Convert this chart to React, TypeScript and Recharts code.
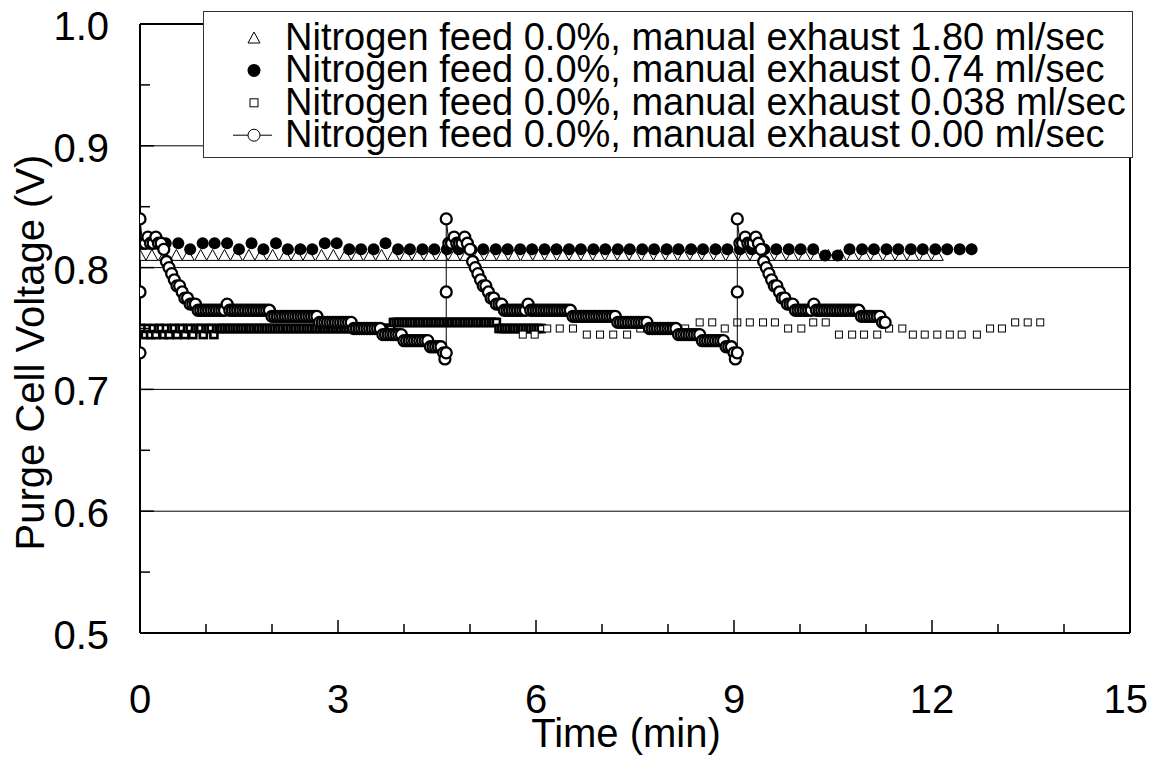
import React from 'react';
import {
  ScatterChart,
  Scatter,
  XAxis,
  YAxis,
  CartesianGrid,
  ReferenceLine,
  Legend,
} from 'recharts';

type Pt = [number, number]; // [time (min), purge cell voltage (V)]

const xTicks = [0, 1, 2, 3, 4, 5, 6, 7, 8, 9, 10, 11, 12, 13, 14, 15];
const yTicks = [0.5, 0.55, 0.6, 0.65, 0.7, 0.75, 0.8, 0.85, 0.9, 0.95, 1.0];
const gridLevels = [0.6, 0.7, 0.8, 0.9];

const legendLabels = [
  'Nitrogen feed 0.0%, manual exhaust 1.80 ml/sec',
  'Nitrogen feed 0.0%, manual exhaust 0.74 ml/sec',
  'Nitrogen feed 0.0%, manual exhaust 0.038 ml/sec',
  'Nitrogen feed 0.0%, manual exhaust 0.00 ml/sec',
];

// exhaust 1.80 ml/sec (open triangles)
const exhaust180: Pt[] = [
  [0, .81], [.18, .81], [.37, .81], [.55, .81], [.73, .81], [.92, .81], [1.1, .81], [1.28, .81], [1.46, .81], [1.65, .81],
  [1.83, .81], [2.01, .81], [2.2, .81], [2.38, .81], [2.56, .81], [2.75, .81], [2.93, .81], [3.11, .81], [3.29, .81], [3.48, .81],
  [3.66, .81], [3.84, .81], [4.03, .81], [4.21, .81], [4.39, .81], [4.58, .81], [4.76, .81], [4.94, .81], [5.12, .81], [5.31, .81],
  [5.49, .81], [5.67, .81], [5.86, .81], [6.04, .81], [6.22, .81], [6.41, .81], [6.59, .81], [6.77, .81], [6.95, .81], [7.14, .81],
  [7.32, .81], [7.5, .81], [7.69, .81], [7.87, .81], [8.05, .81], [8.24, .81], [8.42, .81], [8.6, .81], [8.78, .81], [8.97, .81],
  [9.15, .81], [9.33, .81], [9.52, .81], [9.7, .81], [9.88, .81], [10.07, .81], [10.25, .81], [10.43, .81], [10.61, .81], [10.8, .81],
  [10.98, .81], [11.16, .81], [11.35, .81], [11.53, .81], [11.71, .81], [11.9, .81], [12.08, .81],
];

// exhaust 0.74 ml/sec (filled circles)
const exhaust074: Pt[] = [
  [.02, .82], [.21, .82], [.39, .82], [.58, .82], [.76, .815], [.95, .82], [1.13, .82], [1.32, .82], [1.5, .815], [1.69, .82],
  [1.87, .815], [2.06, .82], [2.24, .815], [2.43, .815], [2.61, .815], [2.8, .82], [2.98, .82], [3.17, .815], [3.35, .815], [3.54, .815],
  [3.72, .82], [3.91, .815], [4.09, .815], [4.28, .815], [4.46, .815], [4.65, .815], [4.83, .815], [5.02, .815], [5.2, .815], [5.39, .815],
  [5.57, .815], [5.76, .815], [5.94, .815], [6.13, .815], [6.31, .815], [6.5, .815], [6.68, .815], [6.87, .815], [7.05, .815], [7.24, .815],
  [7.42, .815], [7.61, .815], [7.79, .815], [7.98, .815], [8.16, .815], [8.35, .815], [8.53, .815], [8.72, .815], [8.9, .815], [9.09, .815],
  [9.27, .815], [9.46, .815], [9.64, .815], [9.83, .815], [10.01, .815], [10.2, .815], [10.38, .81], [10.57, .81], [10.75, .815], [10.94, .815],
  [11.12, .815], [11.31, .815], [11.49, .815], [11.68, .815], [11.86, .815], [12.05, .815], [12.23, .815], [12.42, .815], [12.6, .815],
];

// exhaust 0.038 ml/sec (open squares): fast logging first, then slow
const exhaust038Fast: Pt[] = [
  [0, .75], [.04, .75], [.08, .745], [.12, .75], [.16, .745], [.2, .75], [.24, .745], [.28, .75], [.32, .75], [.36, .745],
  [.4, .75], [.44, .745], [.48, .75], [.52, .75], [.56, .745], [.6, .75], [.64, .75], [.68, .745], [.72, .75], [.76, .75],
  [.8, .745], [.84, .75], [.88, .75], [.92, .75], [.96, .745], [1, .75], [1.04, .75], [1.08, .75], [1.12, .745], [1.16, .75],
  [1.2, .75], [1.24, .75], [1.28, .75], [1.32, .75], [1.36, .75], [1.4, .75], [1.44, .75], [1.48, .75], [1.52, .75], [1.56, .75],
  [1.6, .75], [1.64, .75], [1.68, .75], [1.72, .75], [1.76, .75], [1.8, .75], [1.84, .75], [1.88, .75], [1.92, .75], [1.96, .75],
  [2, .75], [2.04, .75], [2.08, .75], [2.12, .75], [2.16, .75], [2.2, .75], [2.24, .75], [2.28, .75], [2.32, .75], [2.36, .75],
  [2.4, .75], [2.44, .75], [2.48, .75], [2.52, .75], [2.56, .75], [2.6, .75], [2.64, .75], [2.68, .75], [2.72, .75], [2.76, .75],
  [2.8, .75], [2.84, .75], [2.88, .75], [2.92, .75], [2.96, .75], [3, .75], [3.04, .75], [3.08, .75], [3.12, .75], [3.16, .75],
  [3.2, .75], [3.24, .75], [3.28, .75], [3.32, .75], [3.36, .75], [3.4, .75], [3.44, .75], [3.48, .75], [3.52, .75], [3.56, .75],
  [3.6, .75], [3.64, .75], [3.68, .75], [3.72, .75], [3.76, .75], [3.8, .75], [3.84, .755], [3.88, .755], [3.92, .755], [3.96, .755],
  [4, .755], [4.04, .755], [4.08, .755], [4.12, .755], [4.16, .755], [4.2, .755], [4.24, .755], [4.28, .755], [4.32, .755], [4.36, .755],
  [4.4, .755], [4.44, .755], [4.48, .755], [4.52, .755], [4.56, .755], [4.6, .755], [4.64, .755], [4.68, .755], [4.72, .755], [4.76, .755],
  [4.8, .755], [4.84, .755], [4.88, .755], [4.92, .755], [4.96, .755], [5, .755], [5.04, .755], [5.08, .755], [5.12, .755], [5.16, .755],
  [5.2, .755], [5.24, .755], [5.28, .755], [5.32, .755], [5.36, .755], [5.4, .755], [5.44, .75], [5.48, .75], [5.52, .75], [5.56, .75],
  [5.6, .75], [5.64, .75], [5.68, .75], [5.72, .75], [5.76, .75], [5.8, .75], [5.84, .75], [5.88, .75], [5.92, .75], [5.96, .75],
  [6, .75], [6.04, .75], [6.08, .75],
];
const exhaust038Slow: Pt[] = [
  [5.8, .745], [5.98, .745], [6.17, .75], [6.36, .75], [6.56, .75], [6.77, .745], [6.97, .745], [7.17, .745], [7.38, .745], [7.58, .75],
  [7.76, .75], [7.91, .75], [8.08, .75], [8.26, .75], [8.48, .755], [8.67, .755], [8.86, .75], [9.05, .755], [9.24, .755], [9.44, .755],
  [9.62, .755], [9.82, .75], [10.02, .75], [10.2, .755], [10.39, .755], [10.59, .745], [10.79, .745], [10.97, .745], [11.17, .745], [11.35, .75],
  [11.55, .75], [11.71, .745], [11.89, .745], [12.08, .745], [12.27, .745], [12.45, .745], [12.68, .745], [12.88, .75], [13.06, .75], [13.26, .755],
  [13.45, .755], [13.64, .755],
];

// exhaust 0.00 ml/sec (open circles + line), three purge cycles
const purgeCycle1: Pt[] = [
  [0, .73], [0, .78], [0, .84], [.04, .82], [.08, .82], [.12, .825], [.16, .82], [.2, .82], [.24, .825], [.28, .82],
  [.32, .82], [.36, .815], [.4, .805], [.44, .8], [.48, .795], [.52, .79], [.56, .785], [.6, .785], [.64, .78], [.68, .775],
  [.72, .775], [.76, .77], [.8, .77], [.84, .77], [.88, .765], [.92, .765], [.96, .765], [1, .765], [1.04, .765], [1.08, .765],
  [1.12, .765], [1.16, .765], [1.2, .765], [1.24, .765], [1.28, .765], [1.32, .77], [1.36, .765], [1.4, .765], [1.44, .765], [1.48, .765],
  [1.52, .765], [1.56, .765], [1.6, .765], [1.64, .765], [1.68, .765], [1.72, .765], [1.76, .765], [1.8, .765], [1.84, .765], [1.88, .765],
  [1.92, .765], [1.96, .765], [2, .76], [2.04, .76], [2.08, .76], [2.12, .76], [2.16, .76], [2.2, .76], [2.24, .76], [2.28, .76],
  [2.32, .76], [2.36, .76], [2.4, .76], [2.44, .76], [2.48, .76], [2.52, .76], [2.56, .76], [2.6, .76], [2.64, .76], [2.68, .76],
  [2.72, .755], [2.76, .755], [2.8, .755], [2.84, .755], [2.88, .755], [2.92, .755], [2.96, .755], [3, .755], [3.04, .755], [3.08, .755],
  [3.12, .755], [3.16, .755], [3.2, .755], [3.24, .75], [3.28, .75], [3.32, .75], [3.36, .75], [3.4, .75], [3.44, .75], [3.48, .75],
  [3.52, .75], [3.56, .75], [3.6, .75], [3.64, .75], [3.68, .745], [3.72, .745], [3.76, .745], [3.8, .745], [3.84, .745], [3.88, .745],
  [3.92, .745], [3.96, .745], [4, .74], [4.04, .74], [4.08, .74], [4.12, .74], [4.16, .74], [4.2, .74], [4.24, .74], [4.28, .74],
  [4.32, .74], [4.36, .74], [4.4, .735], [4.44, .735], [4.48, .735], [4.52, .735], [4.56, .735], [4.6, .73], [4.62, .725],
];
const purgeCycle2: Pt[] = [
  [4.64, .73], [4.64, .78], [4.64, .84], [4.68, .82], [4.72, .82], [4.76, .825], [4.8, .82], [4.84, .82], [4.88, .82], [4.92, .825],
  [4.96, .82], [5, .815], [5.04, .805], [5.08, .8], [5.12, .795], [5.16, .79], [5.2, .785], [5.24, .785], [5.28, .78], [5.32, .775],
  [5.36, .775], [5.4, .77], [5.44, .77], [5.48, .77], [5.52, .765], [5.56, .765], [5.6, .765], [5.64, .765], [5.68, .765], [5.72, .765],
  [5.76, .765], [5.8, .765], [5.84, .765], [5.88, .77], [5.92, .765], [5.96, .765], [6, .765], [6.04, .765], [6.08, .765], [6.12, .765],
  [6.16, .765], [6.2, .765], [6.24, .765], [6.28, .765], [6.32, .765], [6.36, .765], [6.4, .765], [6.44, .765], [6.48, .765], [6.52, .765],
  [6.56, .76], [6.6, .76], [6.64, .76], [6.68, .76], [6.72, .76], [6.76, .76], [6.8, .76], [6.84, .76], [6.88, .76], [6.92, .76],
  [6.96, .76], [7, .76], [7.04, .76], [7.08, .76], [7.12, .76], [7.16, .76], [7.2, .76], [7.24, .755], [7.28, .755], [7.32, .755],
  [7.36, .755], [7.4, .755], [7.44, .755], [7.48, .755], [7.52, .755], [7.56, .755], [7.6, .755], [7.64, .755], [7.68, .755], [7.72, .75],
  [7.76, .75], [7.8, .75], [7.84, .75], [7.88, .75], [7.92, .75], [7.96, .75], [8, .75], [8.04, .75], [8.08, .75], [8.12, .75],
  [8.16, .745], [8.2, .745], [8.24, .745], [8.28, .745], [8.32, .745], [8.36, .745], [8.4, .745], [8.44, .745], [8.48, .745], [8.52, .74],
  [8.56, .74], [8.6, .74], [8.64, .74], [8.68, .74], [8.72, .74], [8.76, .74], [8.8, .74], [8.84, .74], [8.88, .735], [8.92, .735],
  [8.96, .735], [9, .73], [9.02, .725],
];
const purgeCycle3: Pt[] = [
  [9.05, .73], [9.05, .78], [9.05, .84], [9.09, .82], [9.13, .82], [9.17, .825], [9.21, .82], [9.25, .82], [9.29, .82], [9.33, .825],
  [9.37, .82], [9.41, .815], [9.45, .805], [9.49, .8], [9.53, .795], [9.57, .79], [9.61, .785], [9.65, .785], [9.69, .78], [9.73, .775],
  [9.77, .775], [9.81, .77], [9.85, .77], [9.89, .77], [9.93, .765], [9.97, .765], [10.01, .765], [10.05, .765], [10.09, .765], [10.13, .765],
  [10.17, .765], [10.21, .77], [10.25, .765], [10.29, .765], [10.33, .765], [10.37, .765], [10.41, .765], [10.45, .765], [10.49, .765], [10.53, .765],
  [10.57, .765], [10.61, .765], [10.65, .765], [10.69, .765], [10.73, .765], [10.77, .765], [10.81, .765], [10.85, .765], [10.89, .765], [10.93, .76],
  [10.97, .76], [11.01, .76], [11.05, .76], [11.09, .76], [11.13, .76], [11.17, .76], [11.21, .76], [11.25, .755], [11.29, .755],
];

const SANS = "'Liberation Sans', Arial, Helvetica, sans-serif";
const CHART_W = 1149;

const toRows = (pts: Pt[]) => pts.map(([t, v]) => ({ t, v }));

// eslint-disable-next-line @typescript-eslint/no-explicit-any
const Tri = ({ cx, cy }: any) => (
  <polygon
    points={`${cx},${cy - 6} ${cx + 6},${cy + 5} ${cx - 6},${cy + 5}`}
    fill="#fff"
    stroke="#000"
    strokeWidth={1}
  />
);
// eslint-disable-next-line @typescript-eslint/no-explicit-any
const Dot = ({ cx, cy }: any) => <circle cx={cx} cy={cy} r={6} fill="#000" />;
// slow-logged squares: thin outline
// eslint-disable-next-line @typescript-eslint/no-explicit-any
const Sq = ({ cx, cy }: any) => (
  <rect x={cx - 3.5} y={cy - 3.5} width={7} height={7} fill="#fff" stroke="#000" strokeWidth={1} />
);
// fast-logged squares overlap into a solid bar, like the densely sampled original
// eslint-disable-next-line @typescript-eslint/no-explicit-any
const SqDense = ({ cx, cy }: any) => (
  <rect x={cx - 3.5} y={cy - 3.5} width={7} height={7} fill="#fff" stroke="#000" strokeWidth={2.6} />
);
// eslint-disable-next-line @typescript-eslint/no-explicit-any
const Ring = ({ cx, cy }: any) => (
  <circle cx={cx} cy={cy} r={5.5} fill="#fff" stroke="#000" strokeWidth={2.3} />
);

// eslint-disable-next-line @typescript-eslint/no-explicit-any
const XTick = ({ x, y, payload }: any) => {
  const major = payload.value % 3 === 0;
  // keep the last label ("15") inside the picture
  const atEdge = x + 22 > CHART_W;
  return (
    <g>
      <line x1={x} x2={x} y1={y} y2={y - (major ? 13 : 9)} stroke="#000" strokeWidth={1.5} />
      {major && (
        <text
          x={atEdge ? CHART_W - 1 : x}
          y={y + 80}
          textAnchor={atEdge ? 'end' : 'middle'}
          fontSize={40}
          fontFamily={SANS}
          fill="#000"
        >
          {payload.value}
        </text>
      )}
    </g>
  );
};

// eslint-disable-next-line @typescript-eslint/no-explicit-any
const YTick = ({ x, y, payload }: any) => {
  const major = Math.round(payload.value * 100) % 10 === 0;
  return (
    <g>
      <line x1={x} x2={x + (major ? 14 : 10)} y1={y} y2={y} stroke="#000" strokeWidth={1.5} />
      {major && (
        <text x={x - 31} y={y + 16} textAnchor="end" fontSize={40} fontFamily={SANS} fill="#000">
          {payload.value.toFixed(1)}
        </text>
      )}
    </g>
  );
};

// eslint-disable-next-line @typescript-eslint/no-explicit-any
const XTitle = ({ viewBox }: any) => (
  <text x={viewBox.x + viewBox.width / 2 - 9} y={viewBox.y + 114} textAnchor="middle" fontSize={40} fontFamily={SANS} fill="#000">
    Time (min)
  </text>
);

// eslint-disable-next-line @typescript-eslint/no-explicit-any
const YTitle = ({ viewBox }: any) => {
  const cy = viewBox.y + viewBox.height / 2 + 24;
  return (
    <text x={44} y={cy} transform={`rotate(-90 44 ${cy})`} textAnchor="middle" fontSize={40} fontFamily={SANS} fill="#000">
      Purge Cell Voltage (V)
    </text>
  );
};

const legendMarker = (i: number, x: number, y: number) => {
  if (i === 0) return <Tri cx={x} cy={y} />;
  if (i === 1) return <circle cx={x} cy={y} r={6.5} fill="#000" />;
  if (i === 2) return <rect x={x - 4} y={y - 4} width={8} height={8} fill="#fff" stroke="#000" />;
  return (
    <g>
      <line x1={x - 21} x2={x + 18} y1={y} y2={y} stroke="#000" />
      <circle cx={x} cy={y} r={6} fill="#fff" stroke="#000" />
    </g>
  );
};

const LegendBox = () => (
  <svg width={930} height={147} style={{ display: 'block' }}>
    <rect x={0.5} y={0.5} width={929} height={146} fill="#fff" stroke="#333" />
    {legendLabels.map((label, i) => {
      const base = 39 + i * 32.4;
      return (
        <g key={label}>
          {legendMarker(i, 51, base - 12)}
          <text x={82} y={base} fontSize={38} fontFamily={SANS} fill="#000">
            {label}
          </text>
        </g>
      );
    })}
  </svg>
);

export default function App() {
  return (
    <div style={{ position: 'absolute', left: 0, top: 0, width: CHART_W, height: 759, background: '#fff' }}>
      <ScatterChart width={CHART_W} height={759} margin={{ top: 24, right: 19, bottom: 0, left: 0 }}>
        <CartesianGrid vertical={false} horizontalValues={gridLevels} stroke="#000" strokeWidth={1} />
        <XAxis
          type="number"
          dataKey="t"
          domain={[0, 15]}
          ticks={xTicks}
          interval={0}
          height={126}
          tickLine={false}
          tickSize={0}
          tickMargin={0}
          tick={XTick}
          axisLine={{ stroke: '#000', strokeWidth: 2 }}
          label={{ content: XTitle }}
          allowDataOverflow
        />
        <YAxis
          type="number"
          dataKey="v"
          domain={[0.5, 1]}
          ticks={yTicks}
          interval={0}
          width={140}
          tickLine={false}
          tickSize={0}
          tickMargin={0}
          tick={YTick}
          axisLine={{ stroke: '#000', strokeWidth: 2 }}
          label={{ content: YTitle }}
          allowDataOverflow
        />
        <ReferenceLine y={1} stroke="#000" strokeWidth={2} />
        <ReferenceLine x={15} stroke="#000" strokeWidth={2} />
        <Scatter name="1.80" data={toRows(exhaust180)} shape={Tri} isAnimationActive={false} />
        <Scatter name="0.74" data={toRows(exhaust074)} shape={Dot} isAnimationActive={false} />
        <Scatter name="0.038" data={toRows(exhaust038Fast)} shape={SqDense} isAnimationActive={false} />
        <Scatter name="0.038 slow" data={toRows(exhaust038Slow)} shape={Sq} isAnimationActive={false} />
        <Scatter
          name="0.00"
          data={toRows([...purgeCycle1, ...purgeCycle2, ...purgeCycle3])}
          shape={Ring}
          line={{ stroke: '#000', strokeWidth: 1 }}
          lineType="joint"
          isAnimationActive={false}
        />
        <Legend
          layout="vertical"
          align="center"
          verticalAlign="middle"
          content={LegendBox}
          wrapperStyle={{ left: 203, top: 11, width: 930, height: 147 }}
        />
      </ScatterChart>
    </div>
  );
}
